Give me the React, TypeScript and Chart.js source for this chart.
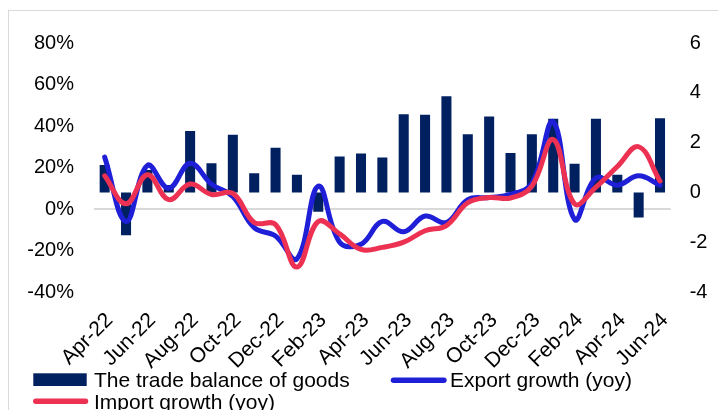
import React, { useEffect, useRef } from 'react';
import { Chart, registerables } from 'chart.js';

Chart.register(...registerables);

const months = ['Apr-22','May-22','Jun-22','Jul-22','Aug-22','Sep-22','Oct-22','Nov-22','Dec-22','Jan-23','Feb-23','Mar-23','Apr-23','May-23','Jun-23','Jul-23','Aug-23','Sep-23','Oct-23','Nov-23','Dec-23','Jan-24','Feb-24','Mar-24','Apr-24','May-24','Jun-24'];

const tradeBalance = [1.1, -1.72, 0.9, 0.3, 2.47, 1.17, 2.32, 0.77, 1.79, 0.71, -0.78, 1.44, 1.56, 1.4, 3.14, 3.12, 3.86, 2.34, 3.05, 1.58, 2.34, 2.96, 1.15, 2.96, 0.71, -1.01, 2.98];

const exportGrowth = [25, -6, 21, 10, 22, 12, 6, -9, -13, -24, 11, -16, -17, -6, -11, -3.4, -6.5, 4.5, 5.5, 7, 12.4, 42, -5, 15, 11.5, 16, 11.5];

const importGrowth = [16, 2.5, 16.5, 4.5, 12, 7, 7.5, -6.5, -7.5, -28, -6, -12, -19.5, -18.5, -16, -10.5, -8, 3, 5.5, 5.3, 11, 33.5, 2.5, 10.5, 20.5, 30, 13.5];

const leftTicks = { min: -40, max: 80, step: 20 };
const rightTicks = { min: -4, max: 6, step: 2 };

const FONT = '"Liberation Sans", Arial, sans-serif';
const NAVY = '#002060';
const BLUE = '#1F1FD8';
const RED = '#EC3152';

const legendPlugin = {
  id: 'customLegend',
  afterDraw(chart: any) {
    const ctx = chart.ctx as CanvasRenderingContext2D;
    const ds = chart.data.datasets;
    ctx.save();
    ctx.font = '21px ' + FONT;
    ctx.textBaseline = 'alphabetic';
    ctx.textAlign = 'left';
    ctx.fillStyle = ds[0].backgroundColor;
    ctx.fillRect(24.3, 362.3, 53.4, 12.7);
    ctx.fillStyle = '#000';
    ctx.fillText(ds[0].label, 85, 375.7);
    const w1 = ctx.measureText(ds[0].label).width;
    const sx = 85 + w1 + 41;
    ctx.lineCap = 'round';
    ctx.lineWidth = 5.5;
    ctx.strokeStyle = ds[1].borderColor;
    ctx.beginPath();
    ctx.moveTo(sx + 2.8, 369.3);
    ctx.lineTo(sx + 53.2, 369.3);
    ctx.stroke();
    ctx.fillText(ds[1].label, sx + 59.3, 375.7);
    ctx.strokeStyle = ds[2].borderColor;
    ctx.beginPath();
    ctx.moveTo(26.8, 390.3);
    ctx.lineTo(76.5, 390.3);
    ctx.stroke();
    ctx.fillText(ds[2].label, 85, 397.5);
    ctx.restore();
  },
};

export default function App() {
  const ref = useRef<HTMLCanvasElement | null>(null);

  useEffect(() => {
    if (!ref.current) return;
    Chart.defaults.font.family = FONT;
    const chart = new Chart(ref.current, {
      type: 'bar',
      data: {
        labels: months,
        datasets: [
          {
            type: 'bar',
            label: 'The trade balance of goods',
            data: tradeBalance,
            backgroundColor: NAVY,
            yAxisID: 'y1',
            order: 3,
            barPercentage: 0.47,
            categoryPercentage: 1,
          },
          {
            type: 'line',
            label: 'Export growth (yoy)',
            data: exportGrowth,
            borderColor: BLUE,
            backgroundColor: BLUE,
            borderWidth: 5,
            pointRadius: 0,
            tension: 0.4,
            borderJoinStyle: 'round',
            borderCapStyle: 'round',
            yAxisID: 'y',
            order: 2,
          },
          {
            type: 'line',
            label: 'Import growth (yoy)',
            data: importGrowth,
            borderColor: RED,
            backgroundColor: RED,
            borderWidth: 5,
            pointRadius: 0,
            tension: 0.4,
            borderJoinStyle: 'round',
            borderCapStyle: 'round',
            yAxisID: 'y',
            order: 1,
          },
        ],
      } as any,
      options: {
        animation: false,
        responsive: false,
        devicePixelRatio: 1,
        layout: { padding: { top: 28.5, left: 0, right: 0, bottom: 0 } },
        plugins: { legend: { display: false }, tooltip: { enabled: false } },
        scales: {
          x: {
            grid: { display: false },
            border: { display: false },
            ticks: {
              autoSkip: false,
              minRotation: 45,
              maxRotation: 45,
              padding: 8,
              labelOffset: 5,
              color: '#000',
              font: { size: 21, family: FONT },
              callback: function (this: any, v: any, i: number) {
                return i % 2 === 0 ? this.getLabelForValue(v) : '';
              },
            },
            afterFit: (s: any) => { s.height = 118; },
          },
          y: {
            position: 'left',
            min: leftTicks.min,
            max: leftTicks.max,
            border: { display: false },
            grid: {
              drawTicks: false,
              lineWidth: 2,
              color: (c: any) => (c.tick && c.tick.value === 0 ? '#d9d9d9' : 'rgba(0,0,0,0)'),
            },
            ticks: {
              stepSize: leftTicks.step,
              padding: 20,
              color: '#000',
              font: { size: 20, family: FONT },
              callback: (v: any) => v + '%',
            },
            afterFit: (s: any) => { s.width = 85; },
          },
          y1: {
            position: 'right',
            min: rightTicks.min,
            max: rightTicks.max,
            border: { display: false },
            grid: { display: false, drawTicks: false },
            ticks: {
              stepSize: rightTicks.step,
              padding: 19,
              color: '#000',
              font: { size: 20, family: FONT },
            },
            afterFit: (s: any) => { s.width = 47.3; },
          },
        },
      } as any,
      plugins: [legendPlugin],
    });
    return () => chart.destroy();
  }, []);

  return (
    <div
      style={{
        position: 'fixed',
        left: 8,
        top: 10,
        width: 760,
        height: 440,
        border: '1px solid #d9d9d9',
        background: '#fff',
      }}
    >
      <canvas ref={ref} width={709} height={399} style={{ display: 'block', width: 709, height: 399 }} />
    </div>
  );
}
